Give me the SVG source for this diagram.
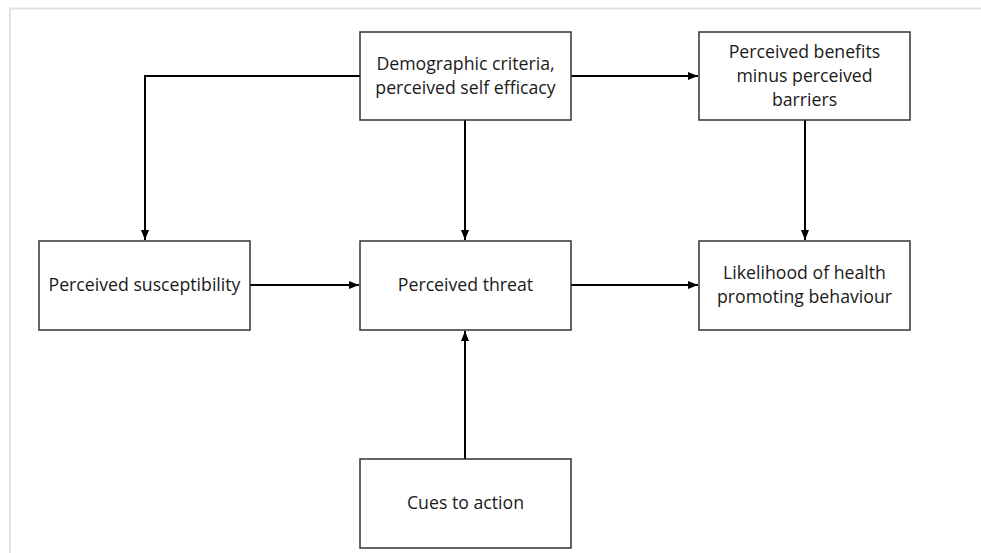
<svg xmlns="http://www.w3.org/2000/svg" width="981" height="553" viewBox="0 0 981 553">
  <style>
    .box { fill: #ffffff; stroke: #333333; stroke-width: 1.5; }
    .lbl { font-family: "Open Sans", "Noto Sans", "Liberation Sans", sans-serif; font-size: 17.7px; fill: #1a1a1a; text-anchor: middle; }
    .edge { fill: none; stroke: #000000; stroke-width: 2; }
  </style>
  <defs>
    <marker id="arrow" viewBox="0 0 10 8" refX="10" refY="4" markerWidth="10" markerHeight="8" markerUnits="userSpaceOnUse" orient="auto">
      <path d="M0,0 L10,4 L0,8 Z" fill="#000000"/>
    </marker>
  </defs>
  <rect width="981" height="553" fill="#ffffff"/>
  <!-- frame -->
  <path d="M10,553 V8.5 H981" fill="none" stroke="#e2e2e2" stroke-width="2"/>

  <g id="connectors">
    <path class="edge" d="M360,76 H145 V240" marker-end="url(#arrow)"/>
    <path class="edge" d="M571,76 H698" marker-end="url(#arrow)"/>
    <path class="edge" d="M465,120 V240" marker-end="url(#arrow)"/>
    <path class="edge" d="M805,120 V240" marker-end="url(#arrow)"/>
    <path class="edge" d="M250,285 H359" marker-end="url(#arrow)"/>
    <path class="edge" d="M571,285 H698" marker-end="url(#arrow)"/>
    <path class="edge" d="M465,459 V331" marker-end="url(#arrow)"/>
  </g>

  <g id="demographic">
    <rect class="box" x="360" y="32" width="211" height="88"/>
    <text class="lbl" x="465.5" y="70">Demographic criteria,</text>
    <text class="lbl" x="465.5" y="94">perceived self efficacy</text>
  </g>
  <g id="benefits">
    <rect class="box" x="699" y="32" width="211" height="88"/>
    <text class="lbl" x="804.5" y="58">Perceived benefits</text>
    <text class="lbl" x="804.5" y="82">minus perceived</text>
    <text class="lbl" x="804.5" y="106">barriers</text>
  </g>
  <g id="susceptibility">
    <rect class="box" x="39" y="241" width="211" height="89"/>
    <text class="lbl" x="144.5" y="291">Perceived susceptibility</text>
  </g>
  <g id="threat">
    <rect class="box" x="360" y="241" width="211" height="89"/>
    <text class="lbl" x="465.5" y="291">Perceived threat</text>
  </g>
  <g id="likelihood">
    <rect class="box" x="699" y="241" width="211" height="89"/>
    <text class="lbl" x="804.5" y="279">Likelihood of health</text>
    <text class="lbl" x="804.5" y="303">promoting behaviour</text>
  </g>
  <g id="cues">
    <rect class="box" x="360" y="459" width="211" height="89"/>
    <text class="lbl" x="465.5" y="509">Cues to action</text>
  </g>
</svg>
